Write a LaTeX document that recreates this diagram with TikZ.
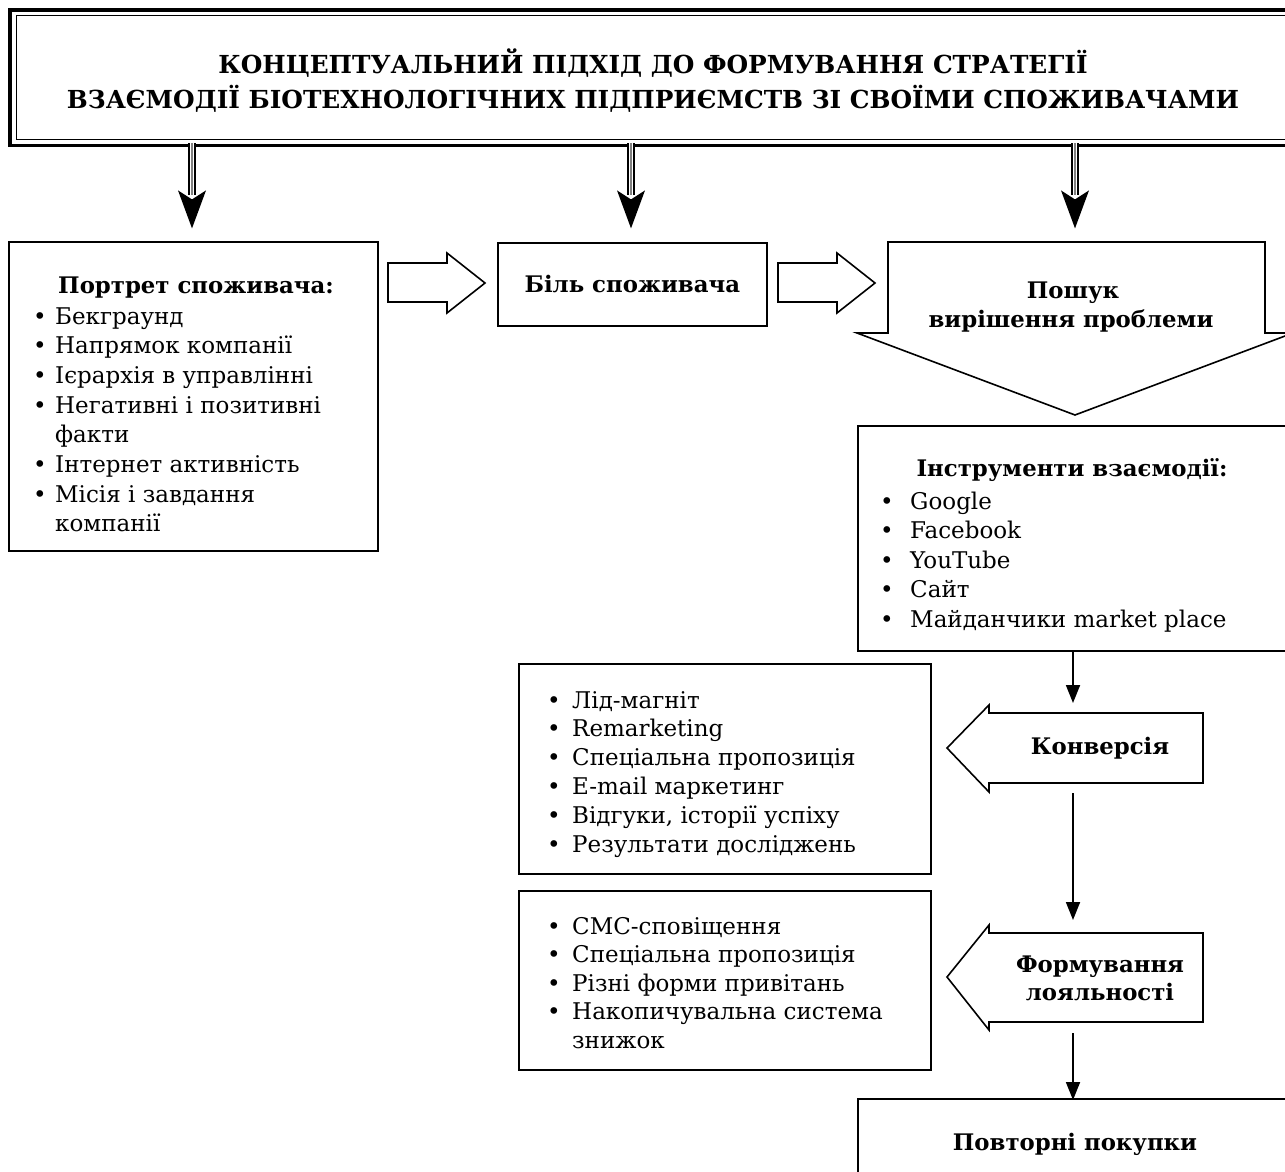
\documentclass[tikz,border=0pt]{standalone}
\usepackage{fontspec}
\setmainfont{DejaVu Serif}
\usetikzlibrary{arrows.meta}
\newlength\bulw
\newcommand{\itm}{\makebox[\bulw][l]{•}}
\newcommand{\cnt}{\hspace*{\bulw}}
\begin{document}
\begin{tikzpicture}[x=1pt,y=-1pt,
  box/.style={draw=black, line width=1.6pt, fill=white, inner sep=0pt},
  blk/.style={draw=black, line width=1.6pt, fill=white, line join=miter},
  body/.style={font=\fontsize{23}{27}\selectfont, inner sep=0pt, anchor=base west},
  hd/.style={font=\bfseries\fontsize{22.8}{27}\selectfont, inner sep=0pt, anchor=base},
  ttl/.style={font=\bfseries\fontsize{24.8}{30}\selectfont, inner sep=0pt, anchor=base},
  flow/.style={line width=1.8pt, -{Triangle[length=18pt,width=14pt]}},
  shaftA/.style={line width=8pt, black},
  shaftB/.style={line width=4.5pt, white},
  shaftC/.style={line width=1.2pt, gray},
]
\useasboundingbox (0,0) rectangle (1285,1172);

% title
\node[inner sep=0pt, minimum width=1300pt, minimum height=135pt, anchor=north west] (title) at (10,10) {};
\draw[line width=3.5pt] (title.north west) rectangle (title.south east);
\draw[line width=1pt] ([shift={(6,6)}]title.north west) rectangle ([shift={(-6,-6)}]title.south east);
\node[ttl] (t1) at (653,74) {КОНЦЕПТУАЛЬНИЙ ПІДХІД ДО ФОРМУВАННЯ СТРАТЕГІЇ};
\node[ttl] (t2) at (653,108) {ВЗАЄМОДІЇ БІОТЕХНОЛОГІЧНИХ ПІДПРИЄМСТВ ЗІ СВОЇМИ СПОЖИВАЧАМИ};

% boxes
\node[box, anchor=north west, minimum width=369pt, minimum height=309pt] (port) at (8,241) {};
\node[box, anchor=north west, minimum width=269pt, minimum height=83pt, font=\bfseries\fontsize{22.8}{27}\selectfont] (bil) at (497,242) {Біль споживача};
\node[box, anchor=north west, minimum width=460pt, minimum height=225pt] (instr) at (857,425) {};
\node[box, anchor=north west, minimum width=412pt, minimum height=210pt] (lid) at (518,663) {};
\node[box, anchor=north west, minimum width=412pt, minimum height=179pt] (sms) at (518,890) {};
\node[box, anchor=north west, minimum width=460pt, minimum height=200pt] (povt) at (857,1098) {};

% triple arrows from title
\foreach \x/\n in {192/a,631/b,1075/c}{
  \coordinate (ts\n) at (title.south -| \x,0);
  \draw[shaftA] ([yshift=2pt]ts\n) -- ++(0,52);
  \draw[shaftB] ([yshift=2pt]ts\n) -- ++(0,52);
  \draw[shaftC] ([yshift=2pt]ts\n) -- ++(0,52);
  \fill[shift={(ts\n)}] (0,83) -- (-14,45) -- (0,54) -- (14,45) -- cycle;
}

% block arrows right
\draw[blk] (388,263) -- (447,263) -- (447,253) -- (485,283) -- (447,313) -- (447,302) -- (388,302) -- cycle;
\draw[blk] (778,263) -- (837,263) -- (837,253) -- (875,283) -- (837,313) -- (837,302) -- (778,302) -- cycle;

% search arrow
\draw[blk] (888,242) -- (1265,242) -- (1265,333) -- (1293,333) -- (1075,415) -- (857,333) -- (888,333) -- cycle;
\node[hd] (s1) at (1073,298) {Пошук};
\node[hd] (s2) at (1071,327) {вирішення проблеми};

% conversion arrow
\draw[blk] (1203,713) -- (1203,783) -- (989,783) -- (989,792) -- (947,748) -- (989,705) -- (989,713) -- cycle;
\node[font=\bfseries\fontsize{22.8}{27}\selectfont, inner sep=0pt] (konv) at (1100,748) {Конверсія};
\coordinate (konvTop) at (1073,703);
\coordinate (konvBot) at (1073,793);

% loyalty arrow
\draw[blk] (1203,933) -- (1203,1022) -- (989,1022) -- (989,1030) -- (947,977) -- (989,925) -- (989,933) -- cycle;
\node[hd] (f1) at (1100,972) {Формування};
\node[hd] (f2) at (1100,1000) {лояльності};
\coordinate (formTop) at (1073,920);
\coordinate (formBot) at (1073,1033);

% flow arrows
\draw[flow] (instr.south -| konvTop) -- (konvTop);
\draw[flow] (konvBot) -- (formTop);
\draw[flow] (formBot) -- ([yshift=-2pt]povt.north -| formBot);

% portrait text
\node[hd] (ph) at (196,293) {Портрет споживача:};
\setlength{\bulw}{22pt}
\foreach \t [count=\i] in {{\itm Бекграунд},{\itm Напрямок компанії},{\itm Ієрархія в управлінні},{\itm Негативні і позитивні},{\cnt факти},{\itm Інтернет активність},{\itm Місія і завдання},{\cnt компанії}}
  \node[body] (p\i) at (33,{324+(\i-1)*29.7}) {\t};

% instruments text
\node[hd] (ih) at (1072,476) {Інструменти взаємодії:};
\setlength{\bulw}{30pt}
\foreach \t [count=\i] in {{\itm Google},{\itm Facebook},{\itm YouTube},{\itm Сайт},{\itm Майданчики market place}}
  \node[body] (i\i) at (880,{509+(\i-1)*29.5}) {\t};

% lid text
\setlength{\bulw}{25pt}
\foreach \t [count=\i] in {{\itm Лід-магніт},{\itm Remarketing},{\itm Спеціальна пропозиція},{\itm E-mail маркетинг},{\itm Відгуки, історії успіху},{\itm Результати досліджень}}
  \node[body] (l\i) at (547,{708+(\i-1)*28.8}) {\t};

% sms text
\foreach \t [count=\i] in {{\itm СМС-сповіщення},{\itm Спеціальна пропозиція},{\itm Різні форми привітань},{\itm Накопичувальна система},{\cnt знижок}}
  \node[body] (m\i) at (547,{934+(\i-1)*28.5}) {\t};

% repeat purchases
\node[hd] (pv) at (1075,1150) {Повторні покупки};
\end{tikzpicture}
\end{document}
